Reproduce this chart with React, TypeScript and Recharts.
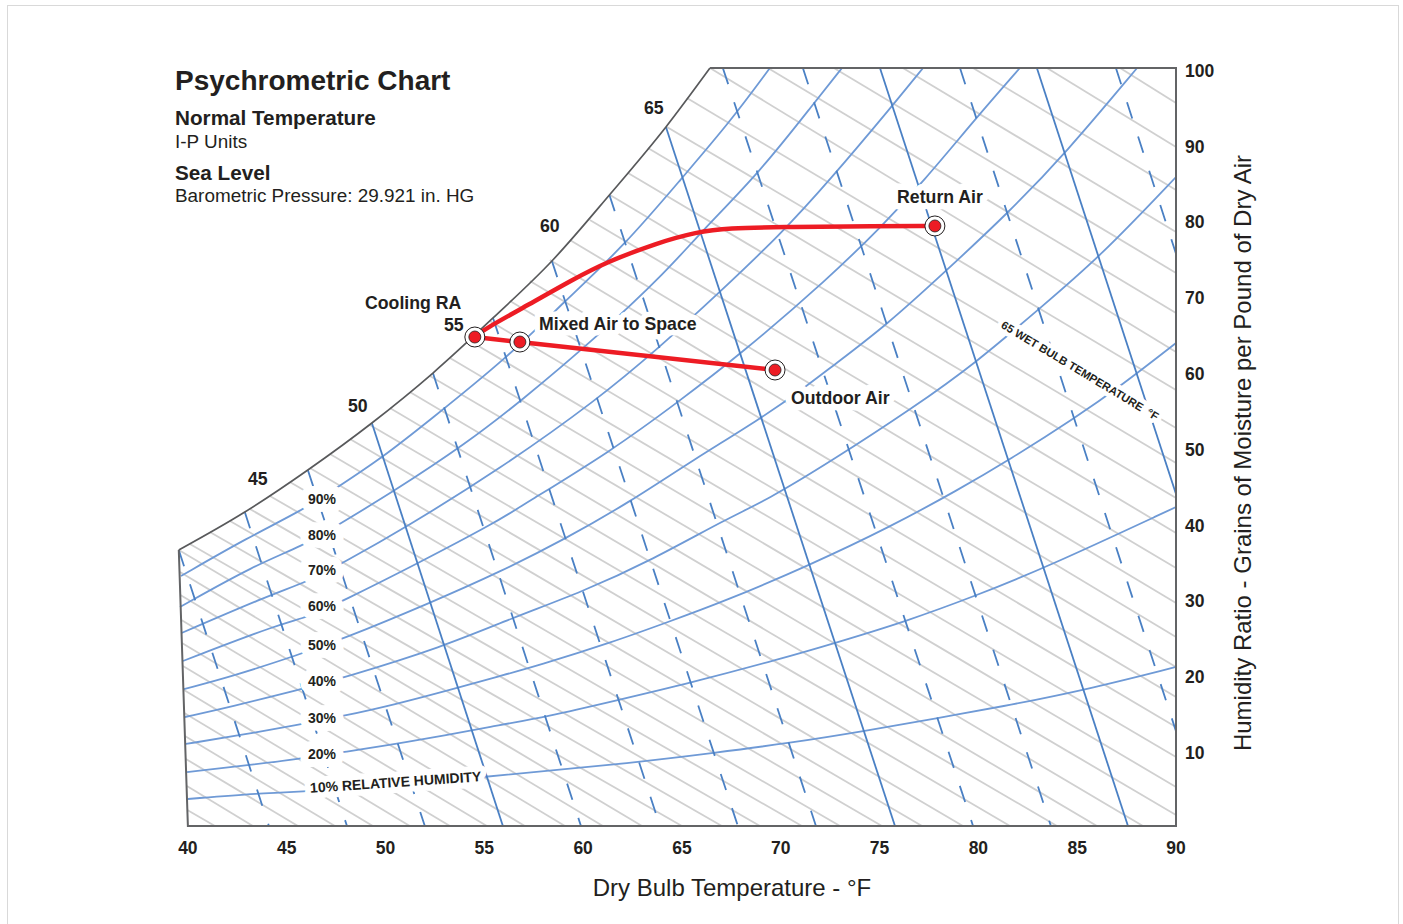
import React from 'react';
import { LineChart, Line, XAxis, YAxis } from 'recharts';

type Pair = [number, number];

const xTicks = [40, 45, 50, 55, 60, 65, 70, 75, 80, 85, 90];
const yTicks = [10, 20, 30, 40, 50, 60, 70, 80, 90, 100];

// chart outline, top left round to the lower left corner
const frame: Pair[] = [[66.42, 100], [90, 100], [90, 0], [40, 0], [39.54, 36.41]];

const saturation: Pair[] = [
  [39.54, 36.41], [42.88, 41.42], [46.07, 46.97], [49.31, 53.17], [52.4, 59.76],
  [55.44, 67.02], [58.42, 74.54], [61.33, 83.25], [64.19, 92.22], [66.42, 100],
];

const rh10: Pair[] = [
  [40, 3.56], [43.64, 4.35], [46.02, 4.49], [55.18, 6.46], [62.87, 8.44], [66.57, 9.63],
  [70.47, 10.95], [74.26, 12.53], [77.96, 14.25], [81.09, 15.7], [85.39, 17.94], [90, 20.98],
];
const rh20: Pair[] = [
  [39.96, 7.12], [43.14, 8.05], [45.57, 8.84], [47.84, 9.76], [50.63, 10.82], [55.79, 13.32],
  [58.07, 14.38], [61.76, 16.62], [65.4, 18.87], [69.96, 22.03], [72.74, 24.14], [76.39, 27.04],
  [79.83, 30.34], [83.37, 34.04], [90, 42.08],
];
const rh30: Pair[] = [
  [39.9, 10.82], [42.63, 12], [45.57, 13.32], [47.84, 14.51], [50.37, 15.96], [53.61, 18.21],
  [55.79, 19.79], [57.66, 21.11], [61.51, 24.27], [64.29, 26.91], [67.07, 29.55], [71.48, 34.43],
  [75.53, 39.45], [78.97, 44.33], [81.55, 48.28], [84.89, 53.83], [87.27, 58.18], [90, 63.72],
];
const rh40: Pair[] = [
  [39.85, 14.38], [42.13, 15.7], [45.57, 17.94], [47.84, 19.53], [52.9, 23.62], [56.4, 27.44],
  [59.94, 30.87], [63.48, 35.09], [67.33, 40.63], [69.3, 43], [72.49, 48.02], [76.69, 55.15],
  [79.93, 61.21], [83.12, 68.34], [86.15, 75.07], [90, 85.62],
];
const rh50: Pair[] = [
  [39.8, 18.07], [42.13, 19.66], [45.57, 22.56], [47.84, 24.67], [52.25, 29.42], [55.79, 33.51],
  [59.08, 37.86], [62.37, 42.75], [65.56, 48.29], [69.05, 53.83], [71.38, 58.18], [72.49, 60.42],
  [75.37, 66.1], [78.41, 73.35], [81.5, 80.87], [84.43, 88.79], [88.03, 100],
];
const rh60: Pair[] = [
  [39.75, 21.77], [44.76, 26.78], [45.97, 27.44], [47.84, 29.68], [51.59, 34.57], [55.79, 40.37],
  [56.7, 41.95], [61.51, 49.61], [64.8, 55.94], [67.93, 62.14], [72.49, 72.43], [75.02, 78.89],
  [77.2, 84.96], [79.93, 93.54], [82.1, 100],
];
const rh70: Pair[] = [
  [39.68, 25.46], [44.15, 30.48], [46.02, 32.19], [47.84, 34.7], [50.98, 39.32], [55.79, 47.1],
  [60.7, 56.2], [63.89, 63.2], [66.92, 70.45], [69.96, 77.97], [72.49, 85.23], [75.68, 95.12], [77.2, 100],
];
const rh80: Pair[] = [
  [39.6, 28.89], [43.39, 34.43], [45.82, 36.94], [47.59, 39.71], [50.37, 44.06], [54.12, 50.53],
  [56.8, 55.94], [60.7, 64.51], [64.29, 73.35], [65.96, 78.37], [68.95, 86.28], [71.73, 95.52], [73.1, 100],
];
const rh90: Pair[] = [
  [39.65, 32.98], [42.99, 38], [45.82, 41.69], [47.44, 44.46], [49.82, 48.55], [52.25, 53.56],
  [56.14, 61.74], [58.98, 69], [62.12, 76.65], [65, 85.49], [67.43, 92.88], [69.45, 100],
];
const rhCurves = [rh10, rh20, rh30, rh40, rh50, rh60, rh70, rh80, rh90];

// the grey slanted family, one start and one end per line
const greyStarts: Pair[] = [
  [87.17, 100], [83.47, 100], [79.73, 100], [76.18, 100], [72.69, 100], [69.35, 100], [66.42, 100],
  [65.25, 96.05], [64.24, 92.22], [63.28, 89.45], [62.27, 86.15], [61.36, 83.25], [60.34, 79.95],
  [59.33, 77.31], [58.32, 74.67], [57.31, 71.9], [56.3, 69.26], [55.28, 66.62], [54.27, 63.99],
  [53.26, 61.74], [52.25, 59.37], [51.23, 57.26], [50.22, 55.15], [49.21, 52.9], [48.2, 51.06],
  [47.19, 49.08], [46.17, 47.23], [45.16, 45.38], [44.15, 43.54], [43.14, 41.82], [42.13, 40.24],
  [41.11, 38.79], [40.1, 37.2], [39.54, 36.41], [39.6, 33.51], [39.62, 30.48], [39.67, 27.18],
  [39.7, 24.14], [39.75, 21.11], [39.8, 17.94], [39.82, 14.91], [39.85, 11.87], [39.9, 8.84],
  [39.95, 5.28], [39.97, 2.11],
];
const greyEnds: Pair[] = [
  [90, 95.39], [90, 89.58], [90, 83.91], [90, 78.37], [90, 72.96], [90, 67.68], [90, 62.53],
  [90, 57.52], [90, 52.51], [90, 47.89], [90, 43.27], [90, 38.66], [90, 34.04], [90, 29.42],
  [90, 24.93], [90, 20.98], [90, 17.02], [90, 13.06], [90, 9.1], [90, 5.15], [90, 1.45],
  [88.33, 0], [86, 0], [83.98, 0], [81.6, 0], [79.22, 0], [77.15, 0], [75.12, 0], [73, 0],
  [71.07, 0], [68.95, 0], [67.02, 0], [65, 0], [62.98, 0], [61, 0], [59.08, 0], [57.05, 0],
  [55.13, 0], [53.26, 0], [51.23, 0], [49.36, 0], [47.44, 0], [45.57, 0], [43.29, 0], [41.37, 0],
];

const wetDashedStarts: Pair[] = [
  [39.54, 36.41], [42.88, 41.42], [46.07, 46.97], [52.4, 59.76], [55.44, 67.02], [58.42, 74.54],
  [61.33, 83.25], [67.07, 100], [71.12, 100], [79.07, 100], [86.96, 100],
];
const wetDashedEnds: Pair[] = [
  [44.1, 0], [48.05, 0], [51.99, 0], [59.89, 0], [63.89, 0], [67.83, 0],
  [71.78, 0], [79.73, 0], [83.67, 0], [90, 12.5], [90, 75.5],
];
const wetSolidStarts: Pair[] = [[49.31, 53.17], [64.19, 92.22], [75.02, 100], [82.96, 100]];
const wetSolidEnds: Pair[] = [[55.94, 0], [75.78, 0], [87.57, 0], [90, 43.8]];

const coolingPath: Pair[] = [
  [54.52, 64.51], [54.93, 65.44], [57.31, 68.87], [59.43, 72.03], [61.2, 74.41], [63.73, 76.92],
  [65.76, 78.37], [67.28, 78.89], [70.31, 79.03], [73, 79.09], [77.8, 79.16],
];
const mixingPath: Pair[] = [[54.52, 64.51], [56.8, 63.85], [69.71, 60.16]];
const statePoints: Pair[] = [[54.52, 64.51], [56.8, 63.85], [69.71, 60.16], [77.8, 79.16]];

const rhLabels = ['90%', '80%', '70%', '60%', '50%', '40%', '30%', '20%'];
const rhLabelY = [504, 540, 575, 611, 650, 686, 723, 759];

const toRows = (pts: Pair[]) => pts.map(([x, y]) => ({ x, y }));

const INK = '#231f20';
const SANS = '"Liberation Sans", Arial, sans-serif';

const Note = ({ x, y, size = 17.7, bold = true, halo = 0, anchor = 'start', rotate, children }: any) => (
  <text
    x={x}
    y={y}
    fontFamily={SANS}
    fontSize={size}
    fontWeight={bold ? 700 : 400}
    fill={INK}
    textAnchor={anchor}
    stroke={halo ? '#fff' : 'none'}
    strokeWidth={halo}
    strokeLinejoin="round"
    paintOrder="stroke"
    transform={rotate !== undefined ? `rotate(${rotate} ${x} ${y})` : undefined}
  >
    {children}
  </text>
);

const StateDot = ({ cx, cy, index }: any) => (
  <g key={index}>
    <circle cx={cx} cy={cy} r={10} fill="#fff" stroke={INK} strokeWidth={1} />
    <circle cx={cx} cy={cy} r={6} fill="#ed1c24" stroke={INK} strokeWidth={0.8} />
  </g>
);

const App = () => (
  <div style={{ position: 'absolute', left: 0, top: 0, width: 1403, height: 924, overflow: 'hidden', background: '#fff' }}>
    <div style={{ position: 'absolute', left: 7, top: 5, width: 1390, height: 1000, border: '1.5px solid #d9d9d9' }} />
    <div style={{ position: 'absolute', left: 0, top: 0 }}>
      <LineChart width={1403} height={924} margin={{ top: 68, right: 167, bottom: 38, left: 178 }}>
        <XAxis
          dataKey="x"
          type="number"
          domain={[39.5, 90]}
          ticks={xTicks}
          interval={0}
          height={60}
          axisLine={false}
          tickLine={false}
          tickMargin={10}
          tick={{ fontSize: 17.5, fontWeight: 700, fill: INK, fontFamily: SANS }}
        />
        <YAxis
          dataKey="y"
          type="number"
          orientation="right"
          domain={[0, 100]}
          ticks={yTicks}
          interval={0}
          width={60}
          axisLine={false}
          tickLine={false}
          tickMargin={3}
          tick={{ fontSize: 17.5, fontWeight: 700, fill: INK, fontFamily: SANS, dy: 2.5 }}
        />

        {greyStarts.map((s, i) => (
          <Line key={`grey-${i}`} data={toRows([s, greyEnds[i]])} dataKey="y" stroke="#d0d0d0" strokeWidth={1.8} dot={false} isAnimationActive={false} />
        ))}
        {rhCurves.map((c, i) => (
          <Line key={`rh-${i}`} data={toRows(c)} dataKey="y" type="basis" stroke="#6f9ad6" strokeWidth={1.8} dot={false} isAnimationActive={false} />
        ))}
        {wetDashedStarts.map((s, i) => (
          <Line key={`wet-${i}`} data={toRows([s, wetDashedEnds[i]])} dataKey="y" stroke="#4a80c4" strokeWidth={1.8} strokeDasharray="17 19" dot={false} isAnimationActive={false} />
        ))}
        {wetSolidStarts.map((s, i) => (
          <Line key={`solid-${i}`} data={toRows([s, wetSolidEnds[i]])} dataKey="y" stroke="#4a80c4" strokeWidth={1.8} dot={false} isAnimationActive={false} />
        ))}
        <Line data={toRows(saturation)} dataKey="y" type="monotoneX" stroke="#58595b" strokeWidth={1.7} dot={false} isAnimationActive={false} />
        <Line data={toRows(frame)} dataKey="y" stroke="#636466" strokeWidth={2} dot={false} isAnimationActive={false} />
        <Line data={toRows(coolingPath)} dataKey="y" type="basis" stroke="#ed1c24" strokeWidth={4.5} dot={false} isAnimationActive={false} />
        <Line data={toRows(mixingPath)} dataKey="y" stroke="#ed1c24" strokeWidth={4.5} dot={false} isAnimationActive={false} />
        <Line data={toRows(statePoints)} dataKey="y" stroke="none" dot={StateDot} isAnimationActive={false} />
      </LineChart>
    </div>

    {/* text sits in its own layer so the white halos cover the lines */}
    <svg width={1403} height={924} style={{ position: 'absolute', left: 0, top: 0 }}>
      {rhLabels.map((t, i) => (
        <Note key={t} x={322} y={rhLabelY[i]} size={14} halo={16} anchor="middle">{t}</Note>
      ))}
      <Note x={396} y={787} size={14} halo={12} anchor="middle" rotate={-3.9}>10% RELATIVE HUMIDITY</Note>
      <Note x={1078} y={374} size={11.3} halo={9} anchor="middle" rotate={31}>{'65 WET BULB TEMPERATURE\u00A0\u00A0°F'}</Note>
      <Note x={940} y={203} halo={13} anchor="middle">Return Air</Note>
      <Note x={791} y={404} halo={13}>Outdoor Air</Note>
      <Note x={539} y={330} halo={11}>Mixed Air to Space</Note>

      <Note x={365} y={309}>Cooling RA</Note>
      <Note x={444} y={331}>55</Note>
      <Note x={644} y={114}>65</Note>
      <Note x={540} y={232}>60</Note>
      <Note x={348} y={412}>50</Note>
      <Note x={248} y={485}>45</Note>

      <Note x={175} y={90} size={28}>Psychrometric Chart</Note>
      <Note x={175} y={125} size={20.7}>Normal Temperature</Note>
      <Note x={175} y={148} size={18.9} bold={false}>I-P Units</Note>
      <Note x={175} y={180} size={20.7}>Sea Level</Note>
      <Note x={175} y={202} size={18.9} bold={false}>Barometric Pressure: 29.921 in. HG</Note>

      <Note x={732} y={896} size={24} bold={false} anchor="middle">Dry Bulb Temperature - °F</Note>
      <Note x={1251} y={453} size={24} bold={false} anchor="middle" rotate={-90}>Humidity Ratio - Grains of Moisture per Pound of Dry Air</Note>
    </svg>
  </div>
);

export default App;
